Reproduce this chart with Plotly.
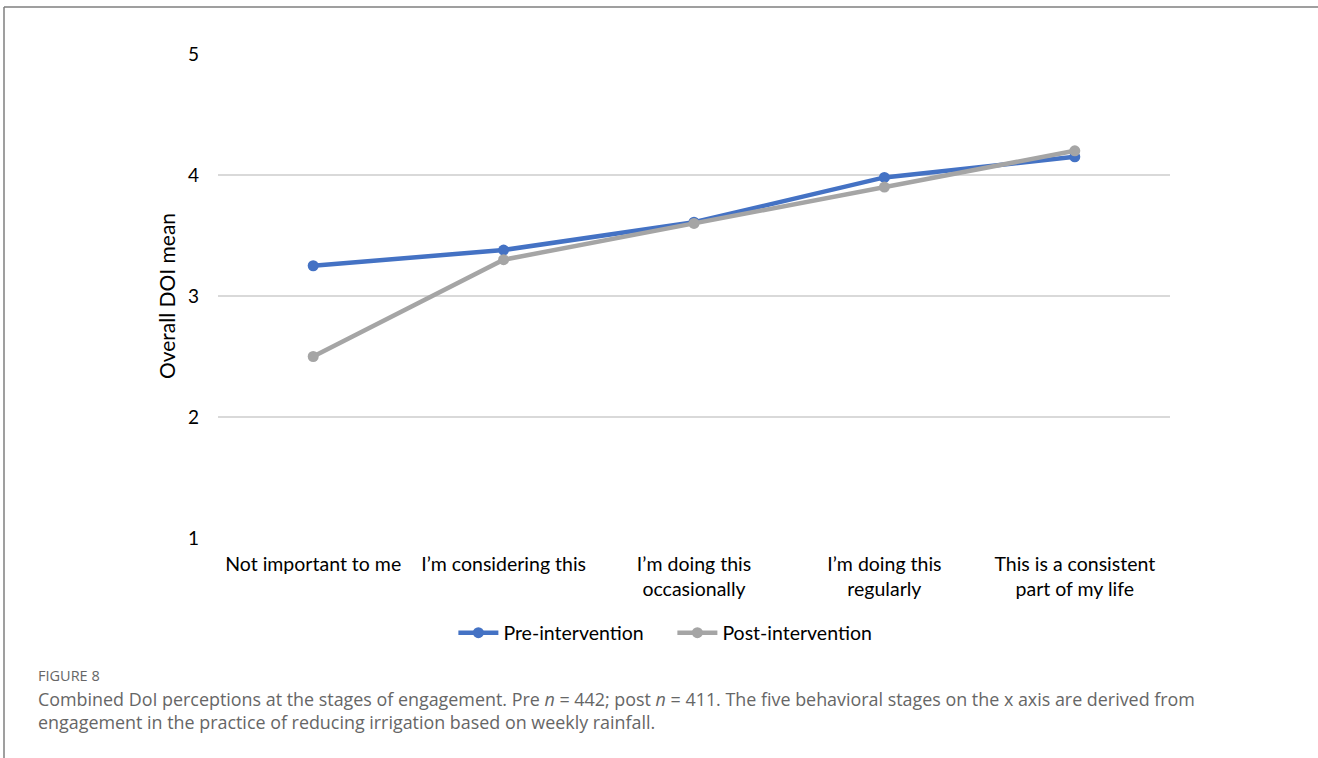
import plotly.graph_objects as go

categories = ["Not important to me", "I’m considering this", "I’m doing this<br>occasionally",
              "I’m doing this<br>regularly", "This is a consistent<br>part of my life"]
pre_values = [3.25, 3.38, 3.61, 3.98, 4.15]
post_values = [2.50, 3.30, 3.60, 3.90, 4.20]
y_ticks = [1, 2, 3, 4, 5]

FONT = "Lato"
CAP_FONT = "Open Sans"
W, H = 1318, 758
L, R, T, B = 218, 148, 54, 220
pw, ph = W - L - R, H - T - B

def px_x(x):
    return (x - L) / pw

def px_y(y):
    return (H - B - y) / ph

fig = go.Figure()
fig.add_trace(go.Scatter(x=list(range(len(categories))), y=pre_values, name="Pre-intervention",
                         mode="lines+markers", line=dict(color="#4472C4", width=4.5),
                         marker=dict(size=11, color="#4472C4")))
fig.add_trace(go.Scatter(x=list(range(len(categories))), y=post_values, name="Post-intervention",
                         mode="lines+markers", line=dict(color="#A5A5A5", width=4.5),
                         marker=dict(size=11, color="#A5A5A5")))

fig.update_layout(
    width=W, height=H,
    margin=dict(l=L, r=R, t=T, b=B),
    paper_bgcolor="white", plot_bgcolor="white",
    font=dict(family=FONT, size=19, color="#000000"),
    showlegend=True,
    legend=dict(orientation="h", x=px_x(461) - 0.008, xanchor="left", y=px_y(633), yanchor="middle",
                font=dict(family=FONT, size=19.5, color="#000000"), itemwidth=40,
                entrywidth=164, entrywidthmode="pixels", tracegroupgap=0),
    xaxis=dict(range=[-0.5, len(categories) - 0.5], tickmode="array",
               tickvals=list(range(len(categories))), ticktext=categories,
               showgrid=False, zeroline=False, showline=False, ticks="",
               tickfont=dict(family=FONT, size=19.5, color="#000000"), ticklabelstandoff=12),
    yaxis=dict(range=[1, 5], tickmode="array", tickvals=y_ticks, ticktext=[str(v) for v in y_ticks],
               showgrid=True, gridcolor="#D9D9D9", gridwidth=1.5, zeroline=False,
               showline=False, ticks="", ticklabelstandoff=18,
               tickfont=dict(family=FONT, size=19, color="#000000"),
               title=dict(text="Overall DOI mean", font=dict(family=FONT, size=21, color="#000000"),
                          standoff=6)),
)

# figure frame lines (top and left)
fig.add_shape(type="line", xref="paper", yref="paper", x0=px_x(4), x1=px_x(1318), y0=px_y(7), y1=px_y(7),
              line=dict(color="#7F7F7F", width=1.5))
fig.add_shape(type="line", xref="paper", yref="paper", x0=px_x(4), x1=px_x(4), y0=px_y(7), y1=px_y(758),
              line=dict(color="#7F7F7F", width=1.5))

fig.add_annotation(xref="paper", yref="paper", x=px_x(37), y=px_y(675), xanchor="left", yanchor="middle",
                   text="FIGURE 8", showarrow=False, borderpad=0,
                   font=dict(family=CAP_FONT, size=14.5, color="#666666"))
fig.add_annotation(xref="paper", yref="paper", x=px_x(37), y=px_y(711), xanchor="left", yanchor="middle",
                   align="left", showarrow=False, borderpad=0,
                   text=("Combined DoI perceptions at the stages of engagement. Pre <i>n</i> = 442; post <i>n</i> = 411. "
                         "The five behavioral stages on the x axis are derived from<br>"
                         "engagement in the practice of reducing irrigation based on weekly rainfall."),
                   font=dict(family=CAP_FONT, size=17.9, color="#666666"))

fig.write_html("out.html")
